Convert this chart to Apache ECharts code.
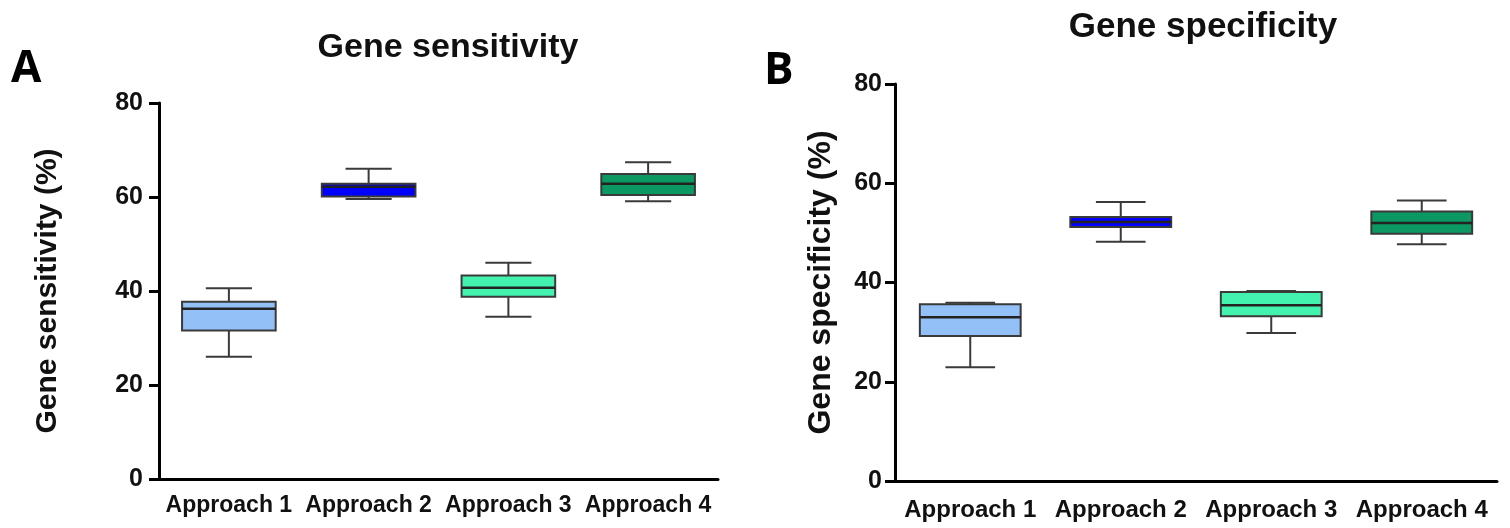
<!DOCTYPE html>
<html>
<head>
<meta charset="utf-8">
<script src="https://cdn.jsdelivr.net/npm/echarts@6/dist/echarts.min.js"></script>
<style>
html, body { margin: 0; padding: 0; background: #fff; }
#main { width: 1510px; height: 528px; }
</style>
</head>
<body>
<div id="main"></div>
<script>
// categories
var categories = ['Approach 1', 'Approach 2', 'Approach 3', 'Approach 4'];
// each row: min, Q1, median, Q3, max
var sensitivity = [
	[26.0, 31.6, 36.2, 37.7, 40.6],
	[59.6, 60.1, 62.2, 62.8, 66.0],
	[34.5, 38.8, 40.7, 43.3, 46.0],
	[59.1, 60.4, 62.8, 64.9, 67.4]
];
var specificity = [
	[22.9, 29.2, 33.0, 35.6, 35.9],
	[48.2, 51.2, 52.2, 53.2, 56.2],
	[29.8, 33.2, 35.4, 38.1, 38.3],
	[47.7, 49.8, 52.0, 54.3, 56.5]
];
var yTicks = [0, 20, 40, 60, 80];
var boxColors = ['#93C0F7', '#0000FF', '#42F2AE', '#0B9863'];

var FONT = 'Liberation Sans';
var lineColor = '#3a3a3a';

// rows -> [index, min, q1, med, q3, max]
function toData(rows) {
	var out = [];
	for (var i = 0; i < rows.length; i++) {
		out.push([i].concat(rows[i]));
	}
	return out;
}

// box + whiskers drawn from the axis scales
function renderBox(params, api) {
	var idx = api.value(0);
	var band = api.size([1, 0])[0];
	var halfBox = band * 0.335;
	var halfCap = band * 0.165;
	var pMin = api.coord([idx, api.value(1)]);
	var pQ1 = api.coord([idx, api.value(2)]);
	var pMed = api.coord([idx, api.value(3)]);
	var pQ3 = api.coord([idx, api.value(4)]);
	var pMax = api.coord([idx, api.value(5)]);
	var x = pMed[0];
	var ls = { stroke: lineColor, lineWidth: 2 };
	return {
		type: 'group',
		children: [
			{ type: 'line', shape: { x1: x, y1: pMax[1], x2: x, y2: pQ3[1] }, style: ls },
			{ type: 'line', shape: { x1: x, y1: pQ1[1], x2: x, y2: pMin[1] }, style: ls },
			{ type: 'line', shape: { x1: x - halfCap, y1: pMax[1], x2: x + halfCap, y2: pMax[1] }, style: ls },
			{ type: 'line', shape: { x1: x - halfCap, y1: pMin[1], x2: x + halfCap, y2: pMin[1] }, style: ls },
			{
				type: 'rect',
				shape: { x: x - halfBox, y: pQ3[1], width: halfBox * 2, height: pQ1[1] - pQ3[1] },
				style: { fill: boxColors[params.dataIndex], stroke: lineColor, lineWidth: 2 }
			},
			{ type: 'line', shape: { x1: x - halfBox, y1: pMed[1], x2: x + halfBox, y2: pMed[1] }, style: { stroke: '#222', lineWidth: 2.5 } }
		]
	};
}

function xAxisOpt(gridIndex, fs, margin) {
	return {
		type: 'category',
		gridIndex: gridIndex,
		data: categories,
		boundaryGap: true,
		axisLine: { lineStyle: { color: '#000', width: 3 } },
		axisTick: { alignWithLabel: true, length: 10, lineStyle: { color: '#000', width: 3 } },
		axisLabel: { color: '#111', fontFamily: FONT, fontWeight: 'bold', fontSize: fs, margin: margin, interval: 0 },
		splitLine: { show: false }
	};
}

function yAxisOpt(gridIndex, name, nameFs, nameGap, fs, margin) {
	return {
		type: 'value',
		gridIndex: gridIndex,
		min: yTicks[0],
		max: yTicks[yTicks.length - 1],
		interval: yTicks[1] - yTicks[0],
		name: name,
		nameLocation: 'middle',
		nameGap: nameGap,
		nameTextStyle: { color: '#111', fontFamily: FONT, fontWeight: 'bold', fontSize: nameFs },
		axisLine: { show: true, lineStyle: { color: '#000', width: 3 } },
		axisTick: { show: true, length: 10, lineStyle: { color: '#000', width: 3 } },
		axisLabel: { color: '#111', fontFamily: FONT, fontWeight: 'bold', fontSize: fs, margin: margin },
		splitLine: { show: false }
	};
}

var chart = echarts.init(document.getElementById('main'), null, { renderer: 'canvas' });

var option = {
	backgroundColor: '#fff',
	animation: false,
	title: [
		{ text: 'Gene sensitivity', left: 443, top: 26, textAlign: 'center',
			textStyle: { fontFamily: FONT, fontWeight: 'bold', fontSize: 34, color: '#111' } },
		{ text: 'Gene specificity', left: 1198, top: 5, textAlign: 'center',
			textStyle: { fontFamily: FONT, fontWeight: 'bold', fontSize: 35, color: '#111' } },
		{ text: 'A', left: 6, top: 42,
			textStyle: { fontFamily: 'Open Sans', fontWeight: 'bold', fontSize: 44, color: '#000' } },
		{ text: 'B', left: 759, top: 44,
			textStyle: { fontFamily: 'Open Sans', fontWeight: 'bold', fontSize: 44, color: '#000' } }
	],
	grid: [
		{ left: 159, top: 103, width: 559, height: 376 },
		{ left: 895, top: 84, width: 602, height: 397 }
	],
	xAxis: [xAxisOpt(0, 23, 15), xAxisOpt(1, 24, 17)],
	yAxis: [
		yAxisOpt(0, 'Gene sensitivity (%)', 30, 96, 25, 16),
		yAxisOpt(1, 'Gene specificity (%)', 32, 58, 25, 13)
	],
	series: [
		{ type: 'custom', xAxisIndex: 0, yAxisIndex: 0, renderItem: renderBox, data: toData(sensitivity) },
		{ type: 'custom', xAxisIndex: 1, yAxisIndex: 1, renderItem: renderBox, data: toData(specificity) }
	]
};
chart.setOption(option);
</script>
</body>
</html>
